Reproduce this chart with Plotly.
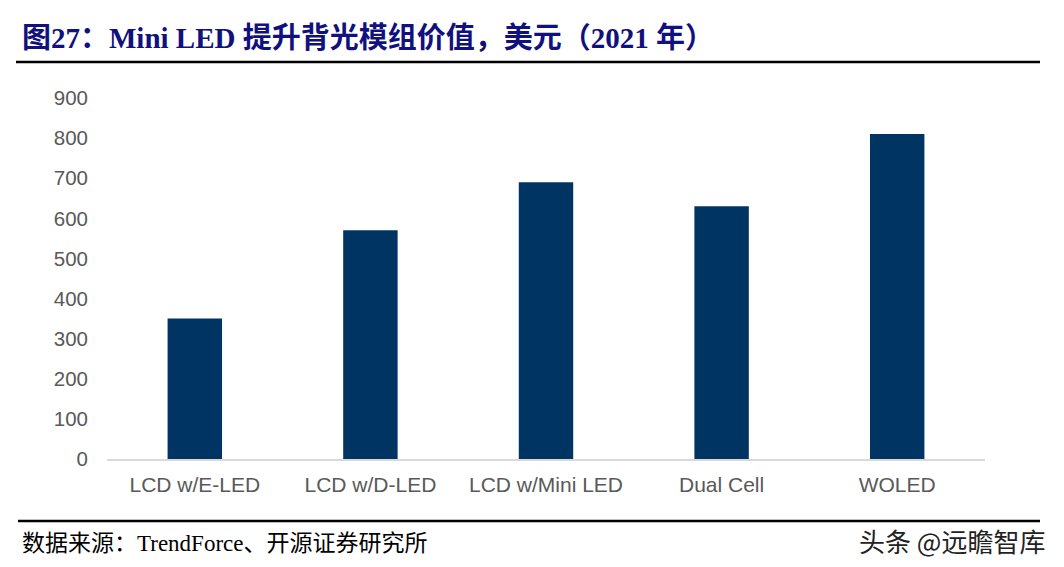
import plotly.graph_objects as go

categories = ["LCD w/E-LED", "LCD w/D-LED", "LCD w/Mini LED", "Dual Cell", "WOLED"]
values = [350, 570, 690, 630, 810]
y_ticks = [0, 100, 200, 300, 400, 500, 600, 700, 800, 900]

W, H = 1064, 567
OFF = 8  # page body margin
L, R, T, B = 107, 985, 98, 459

def px(x):
    return (x - L) / (R - L)

def py(y):
    return (B - y) / (B - T)

fig = go.Figure()
fig.add_trace(go.Bar(x=categories, y=values, marker=dict(color="#003462", line=dict(width=0)),
                     width=0.31, hoverinfo="x+y"))

fig.update_layout(
    width=W, height=H,
    margin=dict(l=L - OFF, r=W - R + OFF, t=T - OFF, b=H - B + OFF, pad=0),
    plot_bgcolor="white", paper_bgcolor="white",
    showlegend=False,
    font=dict(family="Liberation Sans, Arial, sans-serif", color="#595959", size=20),
    xaxis=dict(showgrid=False, showline=True, linecolor="#d9d9d9", linewidth=1.5,
               ticks="", ticklabelstandoff=6, tickfont=dict(size=21, color="#595959")),
    yaxis=dict(range=[0, 900], tickvals=y_ticks, showgrid=False, zeroline=False,
               showline=False, ticks="", ticklabelstandoff=18,
               tickfont=dict(size=20.5, color="#595959")),
)

fig.add_annotation(text="<b>图27：Mini LED 提升背光模组价值，美元（2021 年）</b>",
                   xref="paper", yref="paper", x=px(20), y=py(38), xanchor="left", yanchor="middle",
                   showarrow=False,
                   font=dict(family="Liberation Serif, Noto Sans CJK SC, serif", size=29, color="#10107e"))
fig.add_shape(type="line", xref="paper", yref="paper", x0=px(16), x1=px(1040), y0=py(62), y1=py(62),
              line=dict(color="black", width=2.5))
fig.add_shape(type="line", xref="paper", yref="paper", x0=px(18), x1=px(1040), y0=py(521), y1=py(521),
              line=dict(color="black", width=2.5))
fig.add_annotation(text="数据来源：TrendForce、开源证券研究所",
                   xref="paper", yref="paper", x=px(20), y=py(543), xanchor="left", yanchor="middle",
                   showarrow=False,
                   font=dict(family="Liberation Serif, Noto Sans CJK SC, serif", size=23, color="black"))
fig.add_annotation(text="头条 @远瞻智库",
                   xref="paper", yref="paper", x=px(1047), y=py(540), xanchor="right", yanchor="middle",
                   showarrow=False,
                   font=dict(family="Noto Sans CJK SC, sans-serif", size=26, color="#222222"))

fig.write_html("out.html")
